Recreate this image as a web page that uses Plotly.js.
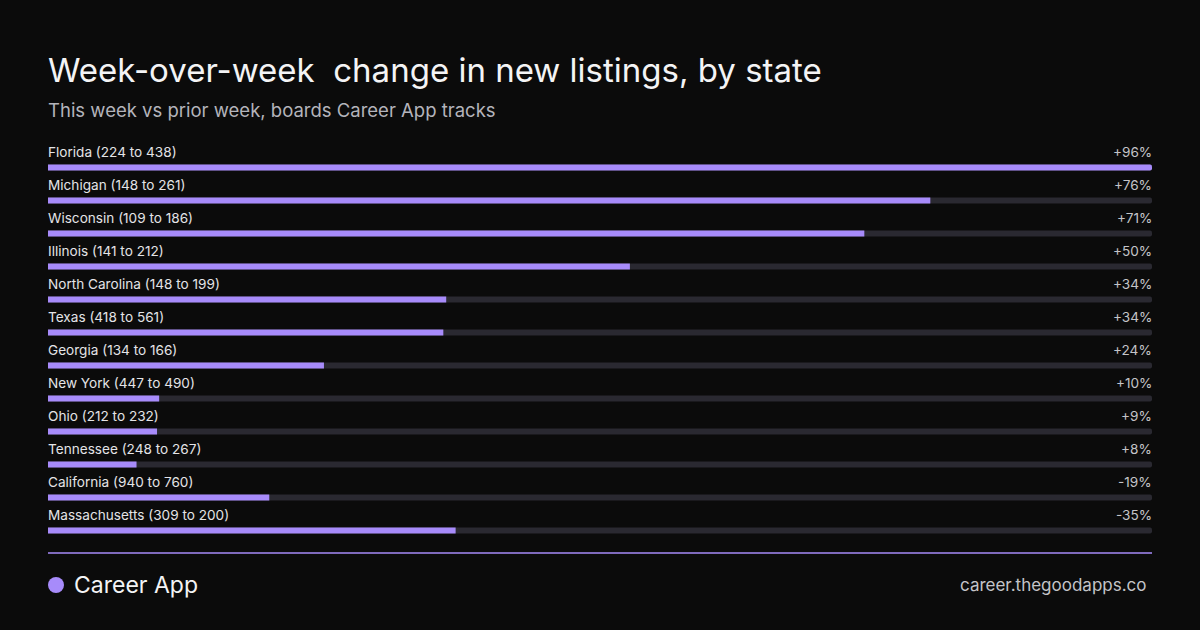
<!DOCTYPE html>
<html>
<head>
<meta charset="utf-8">
<script src="https://cdn.plot.ly/plotly-3.0.1.min.js"></script>
<style>
html,body{margin:0;padding:0;background:#0b0b0b;}
#chart{width:1200px;height:630px;}
</style>
</head>
<body>
<div id="chart"></div>
<script>
const states = ["Florida","Michigan","Wisconsin","Illinois","North Carolina","Texas","Georgia","New York","Ohio","Tennessee","California","Massachusetts"];
const priorWeek = [224,148,109,141,148,418,134,447,212,248,940,309];
const thisWeek = [438,261,186,212,199,561,166,490,232,267,760,200];

const pct = thisWeek.map((v,i)=> (v/priorWeek[i]-1)*100);
const mag = pct.map(Math.abs);
const maxMag = Math.max(...mag);
const idx = states.map((_,i)=>i);

const W=1200,H=630,ML=48,MR=48,MT=151,PH=396;
const MB=H-MT-PH;
const py = p => (MT+PH-p)/PH; // pixel -> paper y
const FONT = "Inter, 'Noto Sans', sans-serif";

const track = {
  type:'bar', orientation:'h', y:idx, x:states.map(()=>maxMag),
  width:0.18, marker:{color:'#2a2931', cornerradius:3, line:{width:0}},
  hoverinfo:'skip', showlegend:false
};
const fill = {
  type:'bar', orientation:'h', y:idx, x:mag,
  width:0.18, marker:{color:'#a78bfa', cornerradius:3, line:{width:0}},
  hoverinfo:'skip', showlegend:false
};

const annotations = [];
states.forEach((s,i)=>{
  annotations.push({xref:'paper',yref:'y',x:0,y:i,yshift:16,xshift:-2,xanchor:'left',yanchor:'middle',
    text:`${s} (${priorWeek[i]} to ${thisWeek[i]})`,showarrow:false,
    font:{family:FONT,size:13.6,color:'#e4e4e7'}});
  const p = Math.round(pct[i]);
  annotations.push({xref:'paper',yref:'y',x:1,y:i,yshift:16,xshift:2,xanchor:'right',yanchor:'middle',
    text:(p>0?'+':'')+p+'%',showarrow:false,
    font:{family:FONT,size:13.6,color:'#c4c4c8'}});
});
annotations.push({xref:'paper',yref:'paper',x:0,y:py(70),xanchor:'left',yanchor:'middle',xshift:-2,
  text:'Week-over-week\u00a0 change in new listings, by state',showarrow:false,
  font:{family:FONT,size:33,color:'#f4f4f5'}});
annotations.push({xref:'paper',yref:'paper',x:0,y:py(110),xanchor:'left',yanchor:'middle',xshift:-2,
  text:'This week vs prior week, boards Career App tracks',showarrow:false,
  font:{family:FONT,size:18.5,color:'#b4b4bb'}});
annotations.push({xref:'paper',yref:'paper',x:0,y:py(585),xanchor:'left',yanchor:'middle',xshift:24,
  text:'Career App',showarrow:false,
  font:{family:FONT,size:23,color:'#f4f4f5'}});
annotations.push({xref:'paper',yref:'paper',x:1,y:py(585),xanchor:'right',yanchor:'middle',xshift:-3,
  text:'career.thegoodapps.co',showarrow:false,
  font:{family:FONT,size:17,color:'#c4c4c8'}});

const shapes = [
  {type:'line',xref:'paper',yref:'paper',x0:0,x1:1,y0:py(553),y1:py(553),line:{color:'#a78bfa',width:1.5}},
  {type:'circle',xref:'paper',yref:'paper',xsizemode:'pixel',ysizemode:'pixel',xanchor:0,yanchor:py(585),
   x0:0,x1:16,y0:-8,y1:8,fillcolor:'#a78bfa',line:{width:0}}
];

const layout = {
  width:W,height:H,
  margin:{l:ML,r:MR,t:MT,b:MB,pad:0},
  paper_bgcolor:'#0b0b0b',plot_bgcolor:'#0b0b0b',
  barmode:'overlay',
  xaxis:{range:[0,maxMag],visible:false,fixedrange:true},
  yaxis:{range:[11.5,-0.5],visible:false,fixedrange:true},
  annotations, shapes, showlegend:false
};
Plotly.newPlot('chart',[track,fill],layout,{displayModeBar:false,staticPlot:true});
</script>
</body>
</html>
